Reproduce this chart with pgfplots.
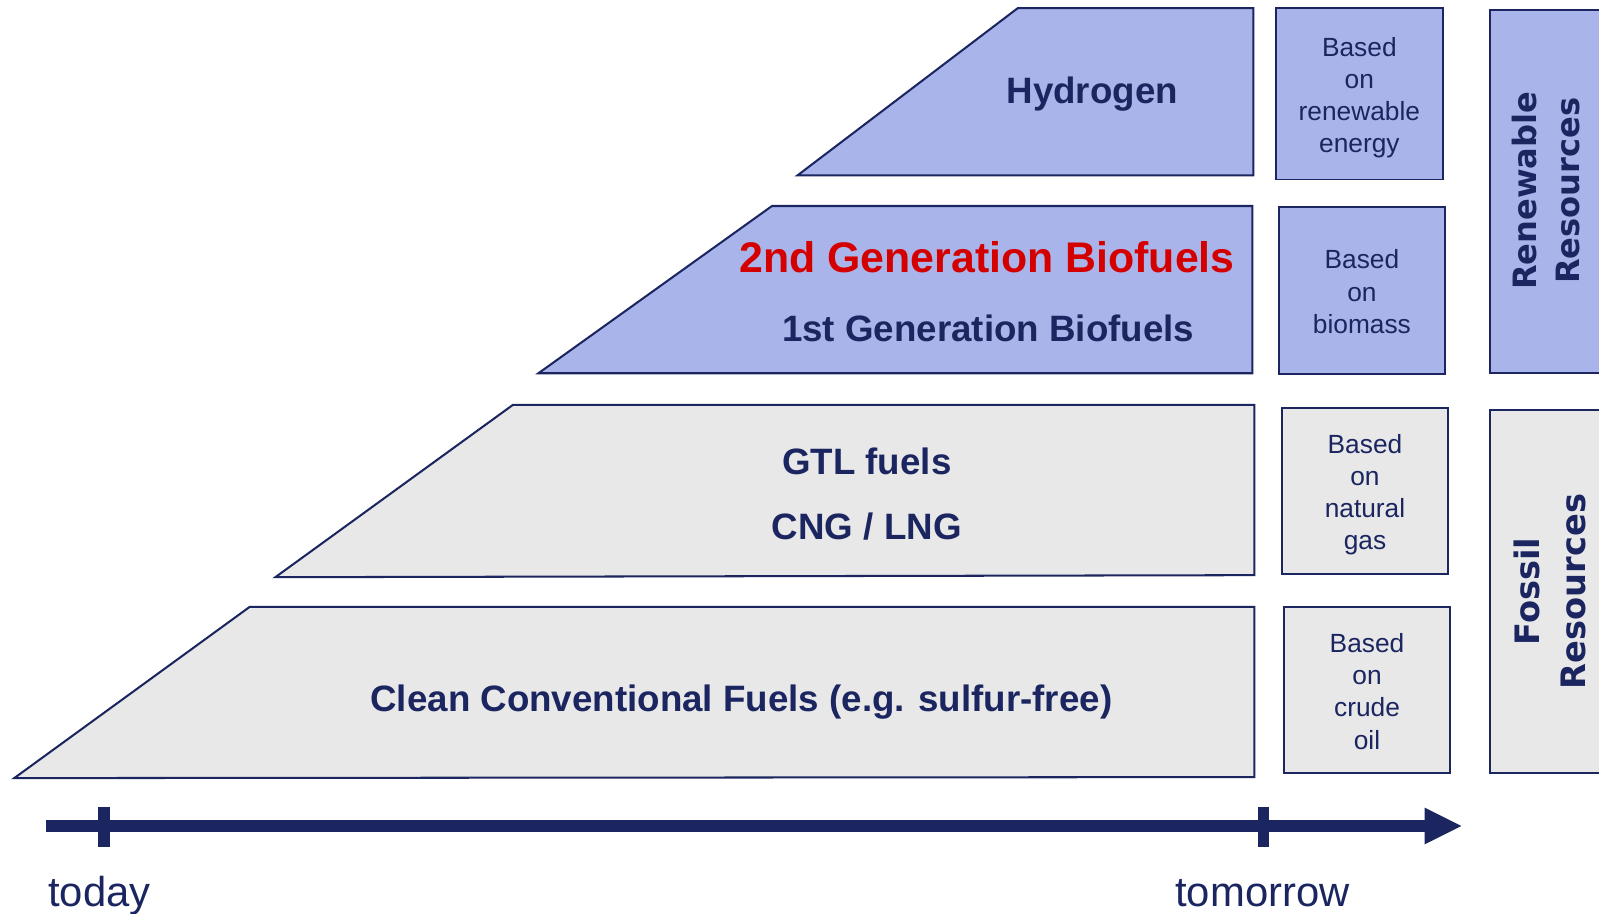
\documentclass[border=0pt]{standalone}
\usepackage{fontspec}
\setmainfont{Liberation Sans}
\newfontfamily\dejavu{DejaVu Sans}
\usepackage{pgfplots}
\pgfplotsset{compat=1.18}

\definecolor{navy}{RGB}{27,37,96}
\definecolor{lblue}{RGB}{169,181,234}
\definecolor{lgrey}{RGB}{232,232,232}
\definecolor{fred}{RGB}{212,0,0}

\begin{document}
\begin{tikzpicture}
\begin{axis}[
    scale only axis,
    width=784pt, height=448pt,
    xmin=0, xmax=1568, ymin=0, ymax=896,
    y dir=reverse,
    hide axis,
    no markers,
    every axis plot/.append style={line join=miter},
]
% fuel layers
\addplot[draw=navy, fill=lblue, line width=1pt] coordinates {(782,172) (998,8) (1229,8) (1229,172)} -- cycle;
\addplot[draw=navy, fill=lblue, line width=1pt] coordinates {(528,366) (757,202) (1228,202) (1228,366)} -- cycle;
\addplot[draw=navy, fill=lgrey, line width=1pt] coordinates {(270,566) (503,397) (1230,397) (1230,564)} -- cycle;
\addplot[draw=navy, fill=lgrey, line width=1pt] coordinates {(14,763) (245,595) (1230,595) (1230,762)} -- cycle;

% source boxes
\addplot[draw=navy, fill=lblue, line width=0.8pt] coordinates {(1251,8) (1415,8) (1415,176) (1251,176)} -- cycle;
\addplot[draw=navy, fill=lblue, line width=0.8pt] coordinates {(1254,203) (1417,203) (1417,367) (1254,367)} -- cycle;
\addplot[draw=navy, fill=lgrey, line width=0.8pt] coordinates {(1257,400) (1420,400) (1420,563) (1257,563)} -- cycle;
\addplot[draw=navy, fill=lgrey, line width=0.8pt] coordinates {(1259,595) (1422,595) (1422,758) (1259,758)} -- cycle;

% resource boxes
\addplot[draw=navy, fill=lblue, line width=1pt] coordinates {(1461,10) (1580,10) (1580,366) (1461,366)} -- cycle;
\addplot[draw=navy, fill=lgrey, line width=1pt] coordinates {(1461,402) (1580,402) (1580,758) (1461,758)} -- cycle;

% time arrow
\addplot[navy, line width=6pt, line cap=butt] coordinates {(45,810) (1400,810)};
\addplot[draw=none, fill=navy] coordinates {(1397,792) (1433,810) (1397,828)} -- cycle;
\addplot[navy, line width=5.5pt, line cap=butt] coordinates {(102,791) (102,831)};
\addplot[navy, line width=5.5pt, line cap=butt] coordinates {(1239,791) (1239,831)};

% labels
\node[anchor=base, text=navy, font=\bfseries\fontsize{18}{21}\selectfont] at (1071,101) {Hydrogen};
\node[anchor=base, text=fred, font=\bfseries\fontsize{21}{24}\selectfont] at (968,267) {2nd Generation Biofuels};
\node[anchor=base, text=navy, font=\bfseries\fontsize{18}{21}\selectfont] at (969,335) {1st Generation Biofuels};
\node[anchor=base, text=navy, font=\bfseries\fontsize{18}{21}\selectfont] at (850,465) {GTL fuels};
\node[anchor=base, text=navy, font=\bfseries\fontsize{18}{21}\selectfont] at (850,529) {CNG / LNG};
\node[anchor=base, text=navy, font=\bfseries\fontsize{18}{21}\selectfont] at (727,698) {Clean Conventional Fuels (e.g. sulfur-free)};

\node[align=center, text=navy, font=\fontsize{12.9}{15.75}\selectfont] at (1333,96) {Based\\on\\renewable\\energy};
\node[align=center, text=navy, font=\fontsize{12.9}{15.75}\selectfont] at (1335.5,286) {Based\\on\\biomass};
\node[align=center, text=navy, font=\fontsize{12.9}{15.75}\selectfont] at (1338.5,485) {Based\\on\\natural\\gas};
\node[align=center, text=navy, font=\fontsize{12.9}{15.75}\selectfont] at (1340.5,678) {Based\\on\\crude\\oil};

\node[rotate=90, align=center, text=navy, font=\dejavu\bfseries\fontsize{15.75}{21.5}\selectfont] at (1516,187) {Renewable\\Resources};
\node[rotate=90, align=center, text=navy, font=\dejavu\bfseries\fontsize{16.5}{22.5}\selectfont] at (1520,580) {Fossil\\Resources};

\node[anchor=base west, inner sep=0pt, text=navy, font=\fontsize{20.5}{24}\selectfont] at (47,889) {today};
\node[anchor=base, inner sep=0pt, text=navy, font=\fontsize{20.5}{24}\selectfont] at (1238,889) {tomorrow};
\end{axis}
\pgfresetboundingbox
\useasboundingbox (current axis.south west) rectangle (current axis.north east);
\end{tikzpicture}
\end{document}
